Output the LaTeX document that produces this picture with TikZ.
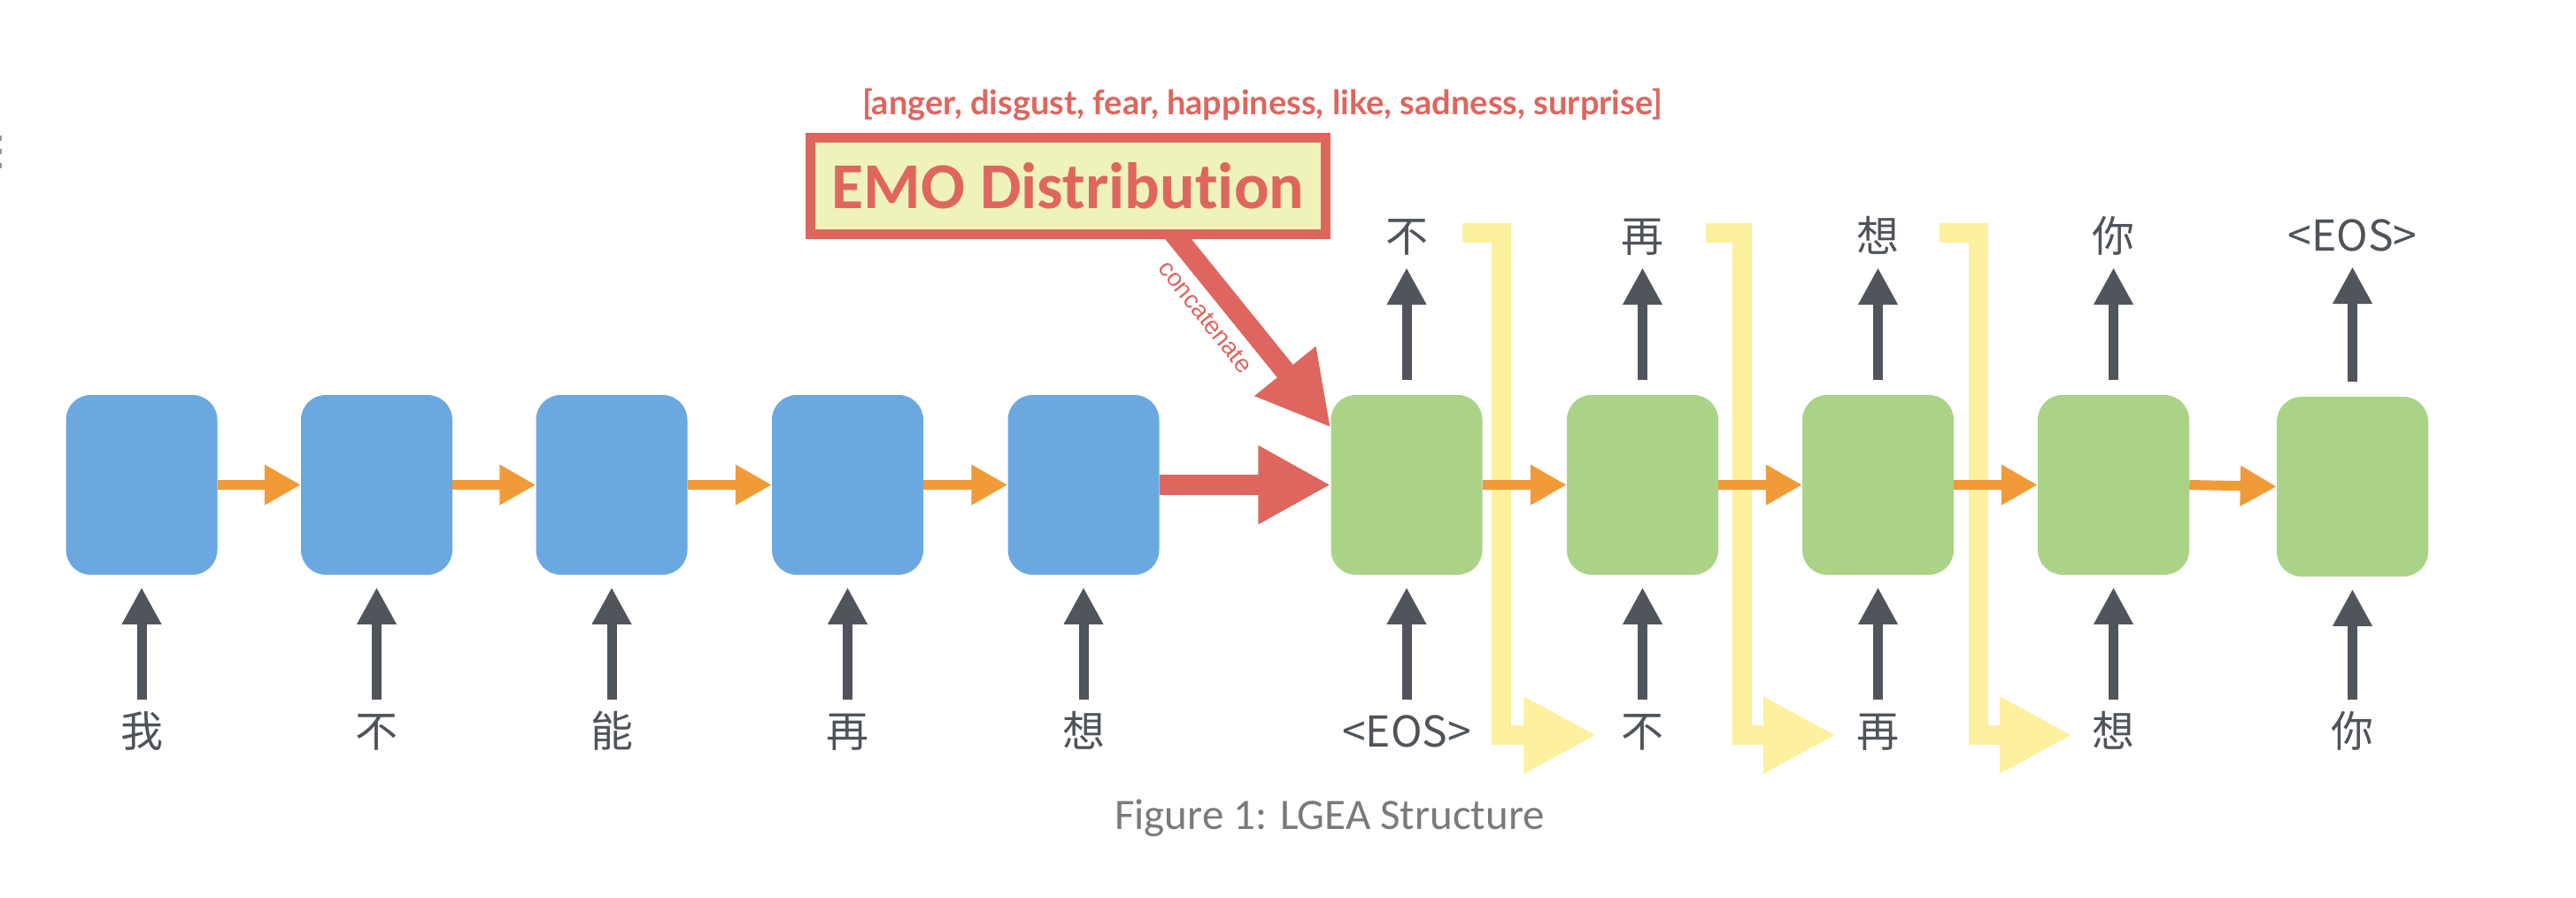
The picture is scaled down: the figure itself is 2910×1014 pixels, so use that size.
\documentclass[tikz,border=0pt]{standalone}
\usepackage{fontspec}
\setmainfont{Carlito}[Ligatures=NoCommon]
\newfontfamily\cjk{Noto Sans CJK SC}
\newfontfamily\helv{Liberation Sans}
\newfontfamily\lato{Lato}
\usetikzlibrary{arrows.meta,calc}
\definecolor{boxblue}{HTML}{6CA8E0}
\definecolor{boxgreen}{HTML}{ABD387}
\definecolor{arrorange}{HTML}{F19A38}
\definecolor{emored}{HTML}{DE665E}
\definecolor{emofill}{HTML}{EFF3BB}
\definecolor{arrgray}{HTML}{50555C}
\definecolor{tokgray}{HTML}{4F545A}
\definecolor{copyyellow}{HTML}{FDF09E}
\definecolor{capgray}{HTML}{7A7A7A}
\definecolor{markgray}{HTML}{959595}
\pgfdeclarelayer{back}
\pgfsetlayers{back,main}
\begin{document}
\begin{tikzpicture}[x=1pt,y=-1pt,
  blk/.style={rectangle, rounded corners=28pt, minimum width=171pt, minimum height=203pt, inner sep=0pt},
  encbox/.style={blk, fill=boxblue},
  decbox/.style={blk, fill=boxgreen},
  tok/.style={inner sep=0pt, text height=39pt, text depth=5pt, text=tokgray, font=\cjk\fontsize{48pt}{48pt}\selectfont},
  fwd/.style={draw=arrorange, line width=11pt, -{Triangle[length=41pt,width=43pt]}},
  upar/.style={draw=arrgray, line width=11pt, -{Triangle[length=42pt,width=42pt]}},
  bigred/.style={draw=emored, line width=23pt, -{Triangle[length=82pt,width=83pt]}},
  copyar/.style={draw=copyyellow, line width=22pt, line join=miter, -{Triangle[length=82pt,width=81pt]}}
]
\begin{pgfonlayer}{back}
\fill[white] (0,0) rectangle (2910,1014);
\end{pgfonlayer}
\useasboundingbox (0,0) rectangle (2910,1014);

% left edge marks
\fill[markgray] (0,153) rectangle (2,159);
\fill[markgray] (0,168) rectangle (2,174);
\fill[markgray] (0,184) rectangle (2,190);

% encoder boxes
\node[encbox] (b1) at (160,547.5) {};
\node[encbox] (b2) at (425.5,547.5) {};
\node[encbox] (b3) at (691,547.5) {};
\node[encbox] (b4) at (957.5,547.5) {};
\node[encbox] (b5) at (1224,547.5) {};
% decoder boxes
\node[decbox] (g1) at (1589,547.5) {};
\node[decbox] (g2) at (1855.5,547.5) {};
\node[decbox] (g3) at (2121.5,547.5) {};
\node[decbox] (g4) at (2387.5,547.5) {};
\node[decbox] (g5) at (2657.5,549.5) {};

% bottom tokens
\node[tok] (bl1) at (160,826) {我};
\node[tok] (bl2) at (425.5,826) {不};
\node[tok] (bl3) at (691,826) {能};
\node[tok] (bl4) at (957.5,826) {再};
\node[tok] (bl5) at (1224,826) {想};
\node[tok] (bl6) at (1589,826) {<EOS>};
\node[tok] (bl7) at (1855.5,826) {不};
\node[tok] (bl8) at (2121.5,826) {再};
\node[tok] (bl9) at (2387.5,826) {想};
\node[tok] (bl10) at (2657.5,826) {你};
% top tokens
\node[tok] (t1) at (1589,267) {不};
\node[tok] (t2) at (1855.5,267) {再};
\node[tok] (t3) at (2121.5,267) {想};
\node[tok] (t4) at (2387.5,267) {你};
\node[tok] (t5) at (2657.5,266) {<EOS>};

% input arrows
\foreach \i/\b in {bl1/b1,bl2/b2,bl3/b3,bl4/b4,bl5/b5,bl6/g1,bl7/g2,bl8/g3,bl9/g4,bl10/g5}
  \draw[upar, shorten <=14pt, shorten >=14pt] (\i.north) -- (\b.south);
% output arrows
\foreach \b/\t in {g1/t1,g2/t2,g3/t3,g4/t4,g5/t5}
  \draw[upar, shorten <=17pt, shorten >=13pt] (\b.north) -- (\t.south);

% copy brackets
\draw[copyar] ($(t1.east)+(39,-4)$) -- ++(43.5,0) |- ($(bl7.west)+(-28,4)$);
\draw[copyar] ($(t2.east)+(47.5,-4)$) -- ++(40.5,0) |- ($(bl8.west)+(-23.5,4)$);
\draw[copyar] ($(t3.east)+(45.5,-4)$) -- ++(43.5,0) |- ($(bl9.west)+(-22.5,4)$);

% recurrent arrows
\draw[fwd] (b1.east) -- (b2.west);
\draw[fwd] (b2.east) -- (b3.west);
\draw[fwd] (b3.east) -- (b4.west);
\draw[fwd] (b4.east) -- (b5.west);
\draw[fwd] (g1.east) -- (g2.west);
\draw[fwd] (g2.east) -- (g3.west);
\draw[fwd] (g3.east) -- (g4.west);
\draw[fwd] (g4.east) -- (g5.west);
\draw[bigred] (b5.east) -- (g1.west);

% emotion distribution
\node[text=emored, font=\lato\bfseries\fontsize{38pt}{38pt}\selectfont] (emos) at (1426,118)
  {[anger, disgust, fear, happiness, like, sadness, surprise]};
\node[draw=emored, line width=11pt, fill=emofill, minimum width=582pt, minimum height=108pt,
  inner sep=0pt, text=emored, font=\bfseries\fontsize{74pt}{74pt}\selectfont] (emo) at (1206.5,210) {EMO Distribution};
\coordinate (cstart) at ($(emo.south)+(116.5,-9.5)$);
\coordinate (ctip) at ($(g1.north west)+(0,37)$);
\begin{pgfonlayer}{back}
\draw[bigred] (cstart) -- (ctip);
\end{pgfonlayer}
\node[text=emored, font=\helv\fontsize{28pt}{28pt}\selectfont, rotate=-51.5] (cat) at (1362,358) {concatenate};

% caption
\node[text=capgray, font=\fontsize{49pt}{49pt}\selectfont, anchor=base] (cap) at (1502,936) {Figure 1: LGEA Structure};
\end{tikzpicture}
\end{document}
